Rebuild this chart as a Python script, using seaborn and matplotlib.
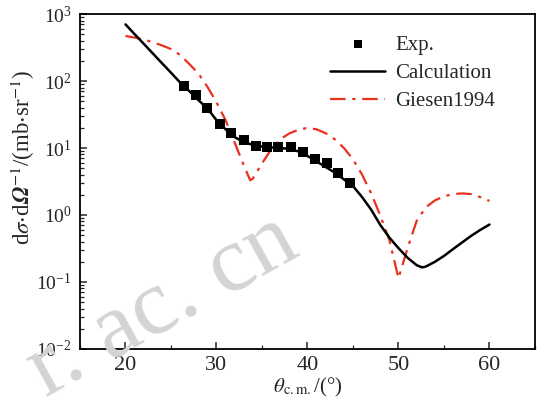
import numpy as np
import pandas as pd
import matplotlib
matplotlib.use("Agg")
import matplotlib.pyplot as plt
import seaborn as sns
from matplotlib.ticker import LogLocator, MultipleLocator, NullFormatter

# Experimental data
exp_theta = [26.4, 27.7, 29.0, 30.4, 31.6, 33.0, 34.3, 35.6, 36.8, 38.2, 39.5, 40.8, 42.1, 43.4, 44.7]
exp_xs = [84, 62, 40, 22.8, 16.6, 13.1, 10.7, 10.4, 10.4, 10.2, 8.8, 6.8, 5.9, 4.3, 3.0]

# Calculation curve
calc_theta = [20, 21, 22, 23, 24, 25, 26, 27, 28, 29, 30, 31, 32, 33, 34, 35, 36, 37, 38, 39, 40,
              41, 42, 43, 44, 45, 46, 47, 48, 49, 50, 51, 52, 52.6, 53, 54, 55, 56, 57, 58, 59, 60]
calc_xs = [700, 500, 360, 258, 185, 133, 95, 71, 52, 39, 26, 19, 14.5, 12.3, 11.1, 10.5, 10.2, 10.0, 9.7, 8.9, 7.6,
           6.3, 5.2, 4.3, 3.4, 2.7, 1.85, 1.2, 0.71, 0.46, 0.32, 0.23, 0.178, 0.165, 0.17, 0.20, 0.245, 0.31, 0.39, 0.49, 0.60, 0.72]

# Giesen1994 curve
gie_theta = [20, 21, 22, 23, 24, 25, 26, 27, 28, 29, 30, 31, 32, 33, 33.7, 34, 35, 36, 37, 38, 39, 40,
             41, 42, 43, 44, 45, 46, 47, 48, 49, 50, 51, 52, 53, 54, 55, 56, 57, 58, 59, 60]
gie_xs = [470, 445, 415, 380, 340, 300, 245, 180, 130, 82, 48, 26, 12, 5.5, 3.3, 3.5, 5.9, 9.5, 13.5, 16.5, 18.7, 20,
          19, 16.6, 13.5, 10, 6.8, 4.0, 2.1, 0.98, 0.42, 0.114, 0.32, 0.82, 1.3, 1.65, 1.9, 2.05, 2.1, 2.05, 1.85, 1.62]

x_ticks = [20, 30, 40, 50, 60]

sns.set_theme(style="ticks")
plt.rcParams['font.family'] = ['Liberation Serif', 'DejaVu Serif']
plt.rcParams['mathtext.fontset'] = 'stix'

fig = plt.figure(figsize=(5.38, 4.05), dpi=100)
ax = fig.add_axes([0.1487, 0.1383, 0.8457, 0.8271])

# watermark
fig.text(0.085, 0.02, "r. ac. cn", fontsize=68, color="#d4d4d4", rotation=29,
         rotation_mode="anchor", ha="left", va="baseline", family="Liberation Serif",
         zorder=10)

df_calc = pd.DataFrame({"theta": calc_theta, "xs": calc_xs})
df_gie = pd.DataFrame({"theta": gie_theta, "xs": gie_xs})
df_exp = pd.DataFrame({"theta": exp_theta, "xs": exp_xs})

sns.scatterplot(data=df_exp, x="theta", y="xs", marker="s", color="black", s=45,
                edgecolor="black", linewidth=0, ax=ax, label="Exp.", zorder=4)
sns.lineplot(data=df_calc, x="theta", y="xs", color="black", linewidth=1.8, ax=ax,
             label="Calculation", zorder=3)
sns.lineplot(data=df_gie, x="theta", y="xs", color="#e8321e", linewidth=1.6, ax=ax,
             label="Giesen1994", zorder=2, dashes=False)
ax.lines[-1].set_dashes([7, 3, 1.5, 3])

ax.set_yscale("log")
ax.set_xlim(15, 65)
ax.set_ylim(1e-2, 1e3)
ax.set_xticks(x_ticks)
ax.xaxis.set_minor_locator(MultipleLocator(5))
ax.yaxis.set_major_locator(LogLocator(base=10, numticks=10))
ax.yaxis.set_minor_locator(LogLocator(base=10, subs=np.arange(2, 10), numticks=20))
ax.yaxis.set_minor_formatter(NullFormatter())

ax.tick_params(axis="both", which="major", direction="in", length=5, width=1.1,
               top=False, right=False, pad=5)
ax.tick_params(axis="x", which="major", labelsize=16, pad=5)
ax.tick_params(axis="y", which="major", labelsize=14, pad=6)
ax.tick_params(axis="both", which="minor", direction="in", length=3, width=0.9,
               top=False, right=False)
for sp in ax.spines.values():
    sp.set_linewidth(1.3)
    sp.set_color("black")

ax.set_xlabel(r"$\theta_{\mathrm{c.m.}}$/(°)", fontsize=15, labelpad=1)
ax.set_ylabel(r"d$\sigma$$\cdot$d$\mathbfit{\Omega}^{-1}$/(mb$\cdot$sr$^{-1}$)", fontsize=16.5, labelpad=2)
ax.yaxis.set_label_coords(-0.094, 0.57)

leg = ax.legend(loc="upper right", frameon=False, fontsize=15, handlelength=2.6,
                bbox_to_anchor=(0.912, 0.937), borderaxespad=0, borderpad=0,
                labelspacing=0.42, handletextpad=0.5, markerscale=0.8)

fig.savefig("out.png", dpi=100)
